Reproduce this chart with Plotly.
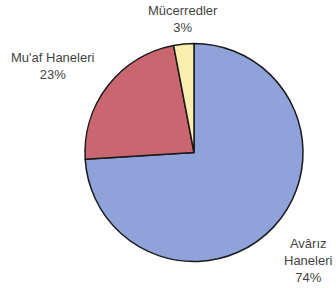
import plotly.graph_objects as go

labels = ["Avârız Haneleri", "Mu'af Haneleri", "Mücerredler"]
label_lines = ["Avârız<br>Haneleri", "Mu'af Haneleri", "Mücerredler"]
values = [74, 23, 3]
colors = ["#8FA2DA", "#C9666F", "#F9EEAE"]

fig = go.Figure(go.Pie(
    labels=labels, values=values, sort=False, direction="clockwise", rotation=0,
    marker=dict(colors=colors, line=dict(color="#1a1a1a", width=1.5)),
    textinfo="none", hoverinfo="label+percent", showlegend=False,
    domain=dict(x=[85/336, 303/336], y=[26/288, 245/288]),
))

pos = [(308, 260), (53, 66), (183, 19)]
for txt, v, (px, py) in zip(label_lines, values, pos):
    fig.add_annotation(
        x=px/336, y=1 - py/288, xref="paper", yref="paper",
        text=f"{txt}<br>{v}%", showarrow=False, align="center",
        font=dict(family="Liberation Sans, Arial", size=13, color="#444"),
        xanchor="center", yanchor="middle",
    )

fig.update_layout(width=336, height=288, margin=dict(l=0, r=0, t=0, b=0),
                  paper_bgcolor="white", plot_bgcolor="white")
fig.write_html("out.html", config={"displayModeBar": False},
               post_script="document.body.style.margin='0';document.body.style.overflow='hidden';")
